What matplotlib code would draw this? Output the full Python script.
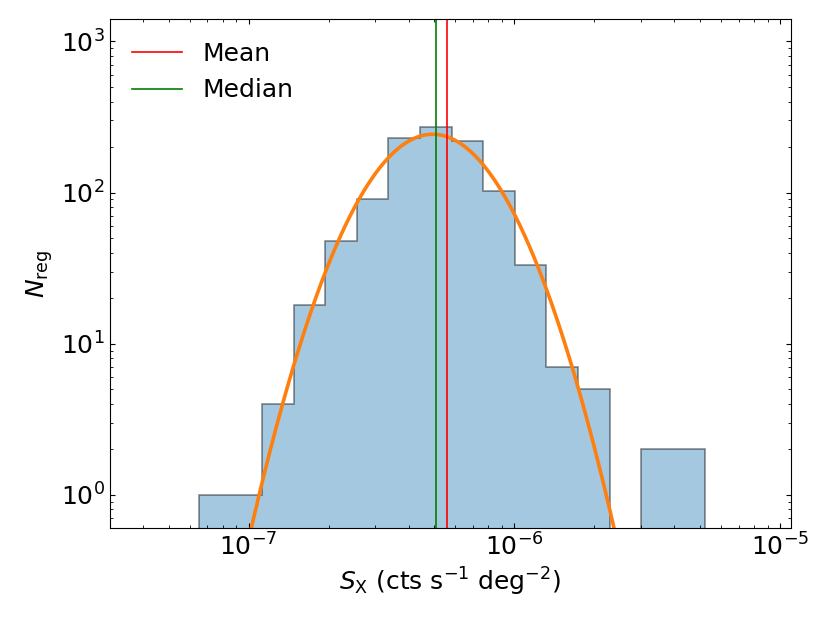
import numpy as np
import matplotlib
matplotlib.use("Agg")
import matplotlib.pyplot as plt
from matplotlib.colors import to_rgba

# Histogram data (log-spaced bins)
bin_lo = 6.5e-8
bin_hi = 5.2e-6
n_bins = 16
counts = [1, 1, 4, 18, 48, 90, 231, 271, 220, 103, 33, 7, 5, 0, 2, 2]

# Summary statistics
mean_sx = 5.6e-7
median_sx = 5.08e-7

# Log-normal (Gaussian in log10) fit parameters
fit_amp = 243.0
fit_mu = -6.307      # log10 centre
fit_sigma = 0.197    # dex

plt.rcParams['font.size'] = 18
plt.rcParams['xtick.direction'] = 'in'
plt.rcParams['ytick.direction'] = 'in'
plt.rcParams['xtick.top'] = True
plt.rcParams['ytick.right'] = True

fig = plt.figure(figsize=(8.3, 6.23), dpi=100)
ax = fig.add_axes([0.132, 0.152, 0.821, 0.817])

edges = np.logspace(np.log10(bin_lo), np.log10(bin_hi), n_bins + 1)
centers = np.sqrt(edges[:-1] * edges[1:])
ax.hist(centers, bins=edges, weights=counts, histtype='stepfilled',
        facecolor=to_rgba('C0', 0.4), edgecolor=(0, 0, 0, 0.45), linewidth=1.2)

xf = np.logspace(-7.4, -5.2, 500)
yf = fit_amp * np.exp(-(np.log10(xf) - fit_mu) ** 2 / (2 * fit_sigma ** 2))
ax.plot(xf, yf, color='C1', lw=2.6)

ax.axvline(mean_sx, color='red', lw=1.2, label='Mean')
ax.axvline(median_sx, color='green', lw=1.2, label='Median')

ax.set_xscale('log')
ax.set_yscale('log')
ax.set_xlim(3e-8, 1.1e-5)
ax.set_ylim(0.6, 1.4e3)
ax.tick_params(which='both', direction='in', top=True, right=True)

ax.set_xlabel(r'$S_\mathrm{X}$ (cts s$^{-1}$ deg$^{-2}$)')
ax.set_ylabel(r'$N_\mathrm{reg}$')
ax.legend(loc='upper left', frameon=False)

fig.savefig('out.png', dpi=100)
